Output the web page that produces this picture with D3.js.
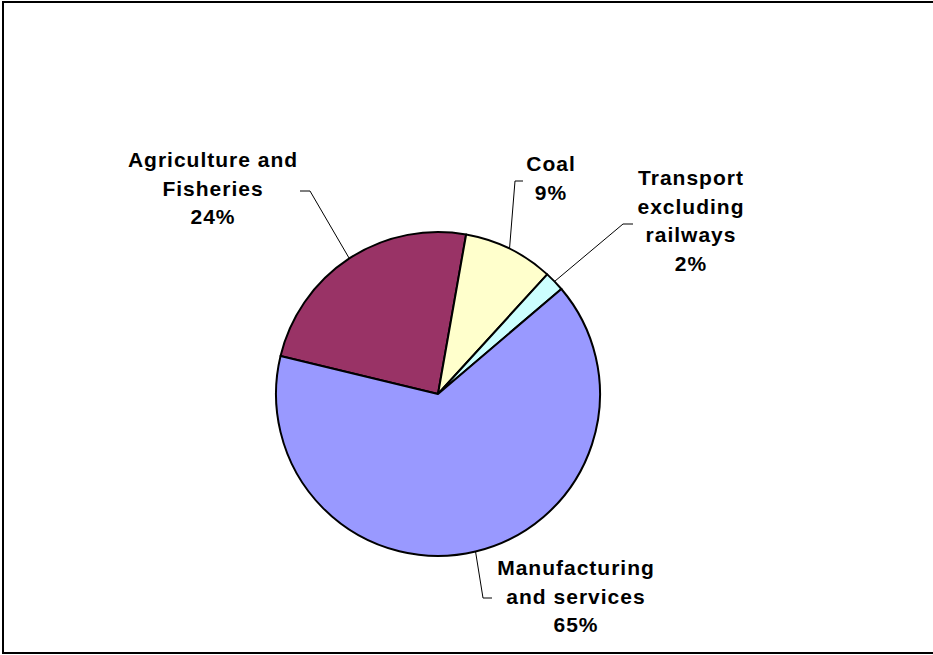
<!DOCTYPE html>
<html lang="en">
    <head>
        <meta charset="utf-8">
        <title>Employment by sector</title>
        <script src="https://cdnjs.cloudflare.com/ajax/libs/d3/7.8.5/d3.min.js"></script>
        <style>
			body { margin: 0; background: #fff; }
			.lbl { font-family: "Liberation Sans", Arial, sans-serif; font-weight: bold; font-size: 21px; letter-spacing: 1px; fill: #000; }
		</style>
    </head>
    <body>
        <script>

		// data
		var sectors = ["Agriculture and Fisheries", "Coal", "Transport excluding railways", "Manufacturing and services"];
		var shares = [24, 9, 2, 65];
		var labelLines = [["Agriculture and", "Fisheries"], ["Coal"], ["Transport", "excluding", "railways"], ["Manufacturing", "and services"]];
		var colours = ["#993366", "#FFFFCC", "#CCFFFF", "#9999FF"];

		// where each label sits (centre x, first baseline) and its leader bend
		var labelPos = [
			{x: 213, y: 167, elbow: [310, 191], end: [300, 191]},
			{x: 551, y: 171, elbow: [515, 181], end: [523, 181]},
			{x: 691, y: 185, elbow: [623, 224], end: [633, 224]},
			{x: 576, y: 575, elbow: [483, 598], end: [492, 598]}
		];

		var width = 933, height = 655;
		var cx = 438, cy = 394, r = 162;
		var lineHeight = 28.5;

		var svg = d3.select("body").append("svg")
			.attr("width", width)
			.attr("height", height);

		// chart area frame
		svg.append("rect")
			.attr("x", 3).attr("y", 2)
			.attr("width", 960).attr("height", 651)
			.attr("fill", "none")
			.attr("stroke", "#000")
			.attr("stroke-width", 2);

		var start = -76.4 * Math.PI / 180;
		var pie = d3.pie().sort(null).startAngle(start).endAngle(start + 2 * Math.PI);
		var arcs = pie(shares);

		var arc = d3.arc().innerRadius(0).outerRadius(r);
		var edge = d3.arc().innerRadius(r).outerRadius(r);

		var g = svg.append("g").attr("transform", "translate(" + cx + "," + cy + ")");

		g.selectAll(".slice").data(arcs)
			.enter().append("path")
				.attr("class", "slice")
				.attr("d", arc)
				.attr("fill", function(d, i) {return colours[i];})
				.attr("stroke", "#000")
				.attr("stroke-width", 2)
				.attr("stroke-linejoin", "round");

		// leader lines
		svg.selectAll(".leader").data(arcs)
			.enter().append("polyline")
				.attr("class", "leader")
				.attr("points", function(d, i) {
					var c = edge.centroid(d);
					var p = labelPos[i];
					return [[cx + c[0], cy + c[1]], p.elbow, p.end].map(function(q) {return q.join(",");}).join(" ");
				})
				.attr("fill", "none")
				.attr("stroke", "#000")
				.attr("stroke-width", 1);

		// labels
		var labels = svg.selectAll(".lbl").data(sectors)
			.enter().append("text")
				.attr("class", "lbl")
				.attr("text-anchor", "middle")
				.attr("x", function(d, i) {return labelPos[i].x;})
				.attr("y", function(d, i) {return labelPos[i].y;});

		labels.each(function(d, i) {
			var t = d3.select(this);
			var lines = labelLines[i].concat([shares[i] + "%"]);
			lines.forEach(function(s, k) {
				t.append("tspan")
					.attr("x", labelPos[i].x)
					.attr("dy", k == 0 ? 0 : lineHeight)
					.text(s);
			});
		});

		</script>
    </body>
</html>
